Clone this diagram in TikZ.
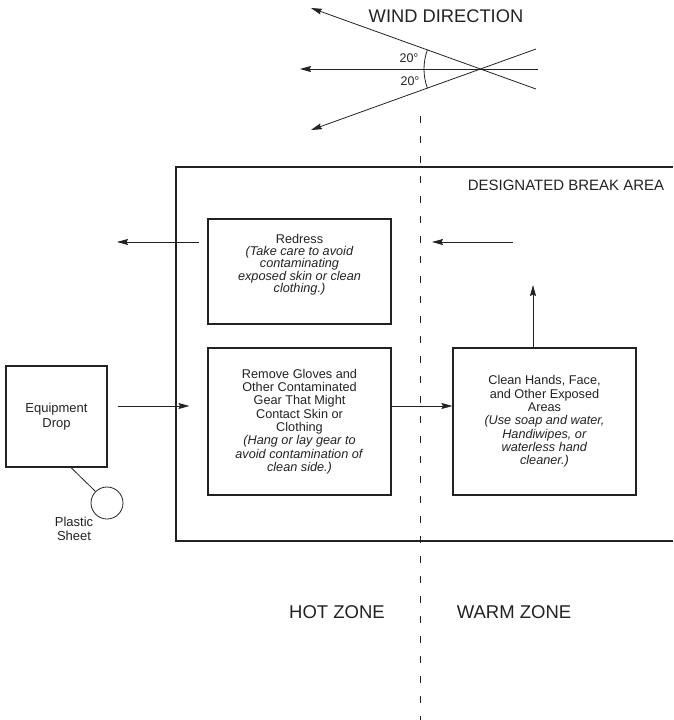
\documentclass[tikz,border=0pt]{standalone}
\usepackage{fontspec}
\setmainfont{Liberation Sans}
\usetikzlibrary{arrows.meta,calc}
\definecolor{ink}{HTML}{222222}
\tikzset{
  ln/.style={draw=ink,line width=0.8pt},
  arr/.style={ln,-{Stealth[length=11pt,width=6pt,inset=1.5pt]}},
  stepbox/.style={draw=ink,line width=1.1pt,align=center,text=ink,inner sep=0pt,
    font=\fontsize{12.7}{13.3}\selectfont},
  lbl/.style={text=ink,align=center,inner sep=0pt},
}
\begin{document}
\begin{tikzpicture}[x=1pt,y=-1pt]
\useasboundingbox (0,0) rectangle (673,720);

% wind direction rose
\coordinate (X) at (480,69);
\node[lbl,font=\fontsize{18.3}{20}\selectfont] (wind) at (446,16) {WIND DIRECTION};
\draw[arr] ($(X)+(56,20)$) -- ($(X)+(-169,-61)$);
\draw[arr] ($(X)+(56,-20)$) -- ($(X)+(-169,61)$);
\draw[arr] ($(X)+(58,0)$) -- ($(X)+(-180,0)$);
\draw[ln] ($(X)+(160:56)$) arc[start angle=160,end angle=200,radius=56];
\node[lbl,font=\fontsize{12.5}{14}\selectfont] (a1) at (409,58) {20°};
\node[lbl,font=\fontsize{12.5}{14}\selectfont] (a2) at (410,81) {20°};

% zone boundary
\draw[ink,line width=0.8pt,dash pattern=on 7pt off 13pt] (420,116) -- (420,720);

% break area outline (open to the right)
\draw[ink,line width=1.1pt] (673,167) -- (176,167) -- (176,541) -- (673,541);
\node[lbl,font=\fontsize{15}{17}\selectfont] (area) at (566,185) {DESIGNATED BREAK AREA};

% steps
\node[stepbox,minimum width=183,minimum height=105,font=\fontsize{12.7}{12.3}\selectfont] (redress) at (299.5,271.5)
  {Redress\\\textit{(Take care to avoid}\\\textit{contaminating}\\\textit{exposed skin or clean}\\\textit{clothing.)}\\[4pt]};
\node[stepbox,minimum width=183,minimum height=147] (remove) at (299.5,421.5)
  {Remove Gloves and\\Other Contaminated\\Gear That Might\\Contact Skin or\\Clothing\\\textit{(Hang or lay gear to}\\\textit{avoid contamination of}\\\textit{clean side.)}};
\node[stepbox,minimum width=183,minimum height=147] (clean) at (544.5,421.5)
  {Clean Hands, Face,\\and Other Exposed\\Areas\\\textit{(Use soap and water,}\\\textit{Handiwipes, or}\\\textit{waterless hand}\\\textit{cleaner.)}};
\node[stepbox,minimum width=101,minimum height=101,font=\fontsize{13}{15}\selectfont] (equip) at (56.5,416.5) {Equipment\\Drop};
\node[draw=ink,line width=0.8pt,circle,minimum size=32,inner sep=0pt] (sheet) at (107,503) {};
\node[lbl,font=\fontsize{13}{14.5}\selectfont] (sheetlbl) at (74,529) {Plastic\\Sheet};
\draw[ln] ([xshift=14.5pt]equip.south) -- (sheet.135);

% flow arrows
\coordinate (rowB) at (0,406);
\coordinate (rowA) at (0,242);
\draw[arr,shorten <=10pt,shorten >=18pt] (equip.east |- rowB) -- (remove.west |- rowB);
\draw[arr] (remove.east |- rowB) -- (clean.west |- rowB);
\coordinate (upEnd) at (533,285);
\draw[arr] (clean.north -| upEnd) -- (upEnd);
\coordinate (wA) at (513,242);
\coordinate (wB) at (432,242);
\draw[arr] (wA) -- (wB);
\coordinate (lEnd) at (117,242);
\draw[arr,shorten <=8pt] (redress.west |- rowA) -- (lEnd);

% zone labels
\node[lbl,font=\fontsize{18.5}{20}\selectfont] (hot) at (337,612) {HOT ZONE};
\node[lbl,font=\fontsize{18.5}{20}\selectfont] (warm) at (514,612) {WARM ZONE};
\end{tikzpicture}
\end{document}
